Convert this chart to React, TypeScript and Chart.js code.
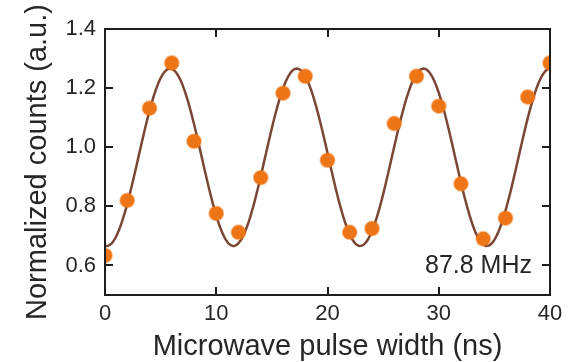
import React, { useEffect, useRef } from "react";
import { Chart, registerables } from "chart.js";

Chart.register(...registerables);

// Measured data (pulse width in ns, normalized counts)
const PULSE_WIDTHS = [0, 2, 4, 6, 8, 10, 12, 14, 16, 18, 20, 22, 24, 26, 28, 30, 32, 34, 36, 38, 40];
const COUNTS = [0.634, 0.82, 1.132, 1.285, 1.02, 0.776, 0.712, 0.897, 1.183, 1.24, 0.956, 0.712, 0.725, 1.08, 1.24, 1.139, 0.876, 0.69, 0.76, 1.17, 1.285];

// Sinusoidal fit parameters (Rabi oscillation, 87.8 MHz)
const FIT_FREQ_GHZ = 0.0878;
const FIT_OFFSET = 0.966;
const FIT_AMPLITUDE = 0.3;
const FIT_PEAK_NS = 5.85;
const FIT_LABEL = "87.8 MHz";

const X_TICKS = [0, 10, 20, 30, 40];
const Y_TICKS = [0.6, 0.8, 1.0, 1.2, 1.4];
const X_TITLE = "Microwave pulse width (ns)";
const Y_TITLE = "Normalized counts (a.u.)";

const FONT_FAMILY = "'Liberation Sans', Arial, Helvetica, sans-serif";
const TEXT_COLOR = "#262626";
const FRAME_COLOR = "#1e1e1e";

function fitCurve() {
  const pts: { x: number; y: number }[] = [];
  for (let i = 0; i <= 400; i++) {
    const t = i * 0.1;
    pts.push({
      x: t,
      y: FIT_OFFSET + FIT_AMPLITUDE * Math.cos(2 * Math.PI * FIT_FREQ_GHZ * (t - FIT_PEAK_NS)),
    });
  }
  return pts;
}

const framePlugin = {
  id: "frameTicks",
  beforeDatasetsDraw(chart: any) {
    const { ctx, chartArea } = chart;
    ctx.save();
    ctx.beginPath();
    ctx.rect(chartArea.left, chartArea.top, chartArea.right - chartArea.left, chartArea.bottom - chartArea.top);
    ctx.clip();
  },
  afterDatasetsDraw(chart: any) {
    const { ctx, chartArea } = chart;
    ctx.restore();
    const xs = chart.scales.x;
    const ys = chart.scales.y;
    const { left, right, top, bottom } = chartArea;
    const len = 8;
    ctx.save();
    ctx.strokeStyle = FRAME_COLOR;
    ctx.lineWidth = 2;
    ctx.strokeRect(left, top, right - left, bottom - top);
    ctx.beginPath();
    X_TICKS.forEach((v) => {
      const px = Math.round(xs.getPixelForValue(v));
      if (px <= left + 1 || px >= right - 1) return;
      ctx.moveTo(px, bottom);
      ctx.lineTo(px, bottom - len);
      ctx.moveTo(px, top);
      ctx.lineTo(px, top + len);
    });
    Y_TICKS.forEach((v) => {
      const py = Math.round(ys.getPixelForValue(v));
      if (py <= top + 1 || py >= bottom - 1) return;
      ctx.moveTo(left, py);
      ctx.lineTo(left + len, py);
      ctx.moveTo(right, py);
      ctx.lineTo(right - len, py);
    });
    ctx.stroke();
    // frequency annotation
    ctx.fillStyle = TEXT_COLOR;
    ctx.font = `25px ${FONT_FAMILY}`;
    ctx.textAlign = "right";
    ctx.textBaseline = "middle";
    ctx.fillText(FIT_LABEL, right - 18, ys.getPixelForValue(0.6) + 1);
    ctx.restore();
  },
};

export default function App() {
  const ref = useRef<HTMLCanvasElement>(null);
  useEffect(() => {
    if (!ref.current) return;
    const chart = new Chart(ref.current, {
      type: "scatter",
      data: {
        datasets: [
          {
            label: "fit",
            data: fitCurve(),
            showLine: true,
            borderColor: "#7a4636",
            borderWidth: 2.5,
            pointRadius: 0,
            tension: 0,
            order: 2,
          },
          {
            label: "data",
            data: PULSE_WIDTHS.map((x, i) => ({ x, y: COUNTS[i] })),
            backgroundColor: "#ee7516",
            borderColor: "rgba(238,117,22,0.45)",
            borderWidth: 2,
            pointRadius: 7,
            clip: 0,
            order: 1,
          },
        ],
      },
      options: {
        animation: false,
        responsive: false,
        maintainAspectRatio: false,
        layout: { padding: { top: 29, right: 32, left: 0, bottom: 0 } },
        plugins: { legend: { display: false }, tooltip: { enabled: false } },
        scales: {
          x: {
            type: "linear",
            min: 0,
            max: 40,
            afterFit(scale: any) {
              scale.height = 67;
            },
            afterBuildTicks(scale: any) {
              scale.ticks = X_TICKS.map((v) => ({ value: v }));
            },
            grid: { display: false, drawTicks: false },
            border: { display: false },
            ticks: {
              padding: 6,
              color: TEXT_COLOR,
              font: { family: FONT_FAMILY, size: 22 },
              maxRotation: 0,
              callback: (v: any) => String(v),
            },
            title: {
              display: true,
              text: X_TITLE,
              color: TEXT_COLOR,
              font: { family: FONT_FAMILY, size: 29, lineHeight: 1 },
              padding: { top: 0, bottom: 1 },
            },
          },
          y: {
            type: "linear",
            min: 0.5,
            max: 1.4,
            afterFit(scale: any) {
              scale.width = 105;
            },
            afterBuildTicks(scale: any) {
              scale.ticks = Y_TICKS.map((v) => ({ value: v }));
            },
            grid: { display: false, drawTicks: false },
            border: { display: false },
            ticks: {
              padding: 9,
              color: TEXT_COLOR,
              font: { family: FONT_FAMILY, size: 22 },
              callback: (v: any) => Number(v).toFixed(1),
            },
            title: {
              display: true,
              text: Y_TITLE,
              color: TEXT_COLOR,
              font: { family: FONT_FAMILY, size: 29, lineHeight: 1 },
              padding: { top: 23, bottom: 0 },
            },
          },
        },
      },
      plugins: [framePlugin],
    });
    return () => chart.destroy();
  }, []);
  return (
    <div style={{ position: "fixed", left: 0, top: 0, width: 582, height: 362, background: "#fff" }}>
      <canvas ref={ref} width={582} height={362} style={{ width: 582, height: 362 }} />
    </div>
  );
}
